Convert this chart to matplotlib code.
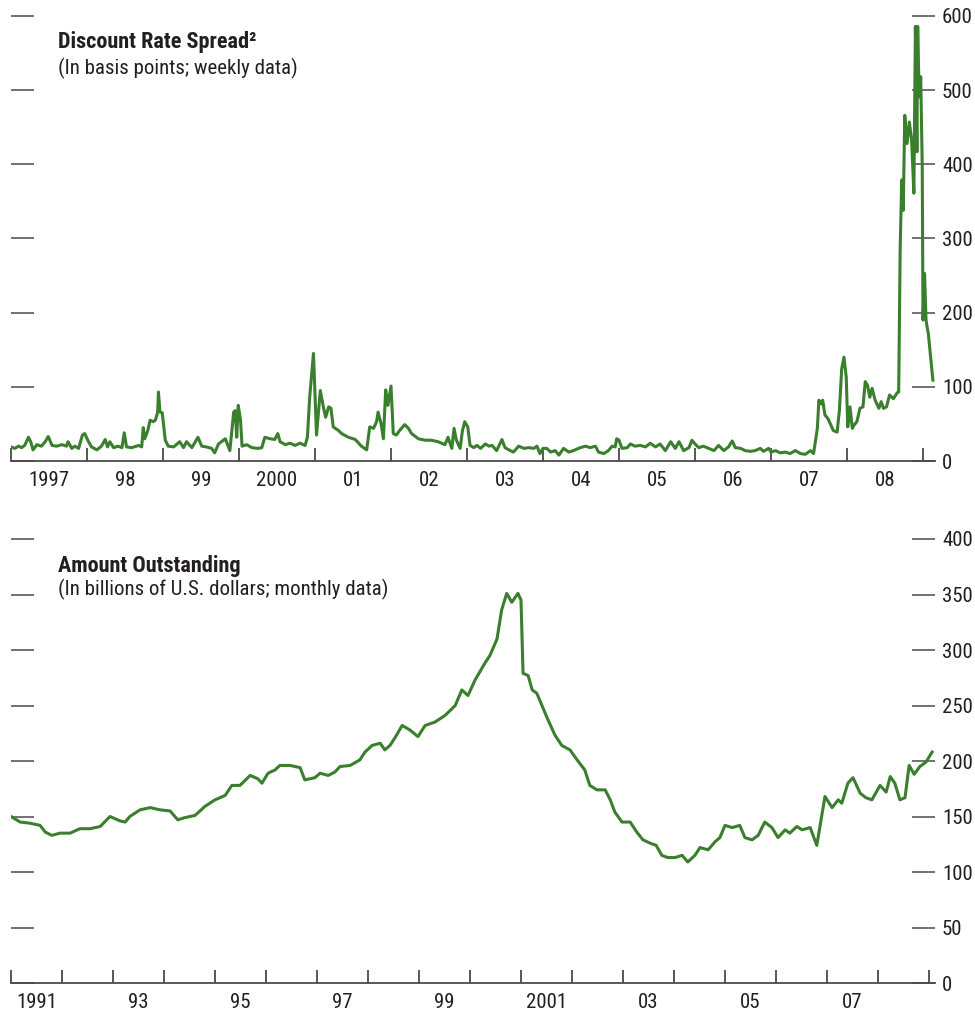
import os
import numpy as np
import matplotlib
matplotlib.use('Agg')
import matplotlib.pyplot as plt
from matplotlib import font_manager as fm
from matplotlib.ticker import FixedLocator, NullFormatter, FixedFormatter


# pick a narrow sans face that has real regular and bold files
def has_bold(name):
    ws = set()
    for f in fm.fontManager.ttflist:
        if f.name != name or '[' in os.path.basename(f.fname) or f.style != 'normal':
            continue
        ws.add(f.weight if isinstance(f.weight, int) else {'normal': 400, 'bold': 700}.get(f.weight, 0))
    return 400 in ws and 700 in ws


family, stretch = 'DejaVu Sans', 'condensed'
for cand in ['Liberation Sans Narrow', 'Roboto Condensed', 'PT Sans Narrow', 'Arimo Narrow',
             'Fira Sans Condensed', 'IBM Plex Sans Condensed', 'Barlow Semi Condensed']:
    if has_bold(cand):
        family, stretch = cand, 'normal'
        break
fs = 15 if family != 'DejaVu Sans' else 13
fs_title = fs + 1
plt.rcParams['font.family'] = [family, 'DejaVu Sans']
plt.rcParams['font.stretch'] = stretch

# Discount rate spread (basis points, weekly data) - decimal year, value
spread_year = [
    1997.00, 1997.05, 1997.10, 1997.14, 1997.18, 1997.23, 1997.26, 1997.29, 1997.34, 1997.40,
    1997.45, 1997.49, 1997.54, 1997.60, 1997.67, 1997.73, 1997.75, 1997.80, 1997.84, 1997.89,
    1997.94, 1997.97, 1998.02, 1998.06, 1998.13, 1998.19, 1998.24, 1998.27, 1998.30, 1998.35,
    1998.41, 1998.46, 1998.49, 1998.52, 1998.59, 1998.68, 1998.72, 1998.74, 1998.76, 1998.80,
    1998.83, 1998.87, 1998.90, 1998.93, 1998.94, 1998.96, 1998.99, 1999.03, 1999.07, 1999.14,
    1999.22, 1999.27, 1999.31, 1999.38, 1999.46, 1999.51, 1999.57, 1999.64, 1999.68, 1999.73,
    1999.82, 1999.88, 1999.93, 1999.95, 1999.97, 1999.99, 2000.02, 2000.04, 2000.10, 2000.17,
    2000.25, 2000.30, 2000.34, 2000.41, 2000.47, 2000.51, 2000.54, 2000.61, 2000.67, 2000.74,
    2000.80, 2000.87, 2000.90, 2000.93, 2000.98, 2001.02, 2001.07, 2001.11, 2001.14, 2001.18,
    2001.21, 2001.24, 2001.31, 2001.35, 2001.44, 2001.53, 2001.61, 2001.68, 2001.72, 2001.77,
    2001.81, 2001.83, 2001.87, 2001.90, 2001.93, 2001.96, 2002.00, 2002.03, 2002.07, 2002.12,
    2002.18, 2002.23, 2002.27, 2002.36, 2002.45, 2002.53, 2002.62, 2002.71, 2002.75, 2002.80,
    2002.83, 2002.86, 2002.91, 2002.94, 2002.97, 2003.01, 2003.04, 2003.09, 2003.13, 2003.18,
    2003.24, 2003.29, 2003.33, 2003.39, 2003.46, 2003.50, 2003.57, 2003.61, 2003.68, 2003.75,
    2003.81, 2003.88, 2003.92, 2003.96, 2004.00, 2004.05, 2004.10, 2004.16, 2004.21, 2004.27,
    2004.34, 2004.40, 2004.49, 2004.56, 2004.62, 2004.69, 2004.73, 2004.80, 2004.86, 2004.91,
    2004.95, 2004.97, 2005.00, 2005.04, 2005.11, 2005.15, 2005.21, 2005.28, 2005.35, 2005.41,
    2005.48, 2005.54, 2005.61, 2005.68, 2005.74, 2005.79, 2005.85, 2005.92, 2005.96, 2006.00,
    2006.05, 2006.11, 2006.18, 2006.25, 2006.31, 2006.38, 2006.44, 2006.49, 2006.53, 2006.60,
    2006.66, 2006.73, 2006.79, 2006.86, 2006.90, 2006.97, 2007.00, 2007.06, 2007.12, 2007.19,
    2007.25, 2007.32, 2007.39, 2007.45, 2007.52, 2007.56, 2007.61, 2007.63, 2007.66, 2007.68,
    2007.71, 2007.75, 2007.78, 2007.82, 2007.87, 2007.90, 2007.93, 2007.96, 2007.99, 2008.01,
    2008.04, 2008.07, 2008.09, 2008.13, 2008.17, 2008.21, 2008.24, 2008.27, 2008.30, 2008.33,
    2008.37, 2008.42, 2008.45, 2008.48, 2008.52, 2008.56, 2008.61, 2008.66, 2008.68, 2008.70,
    2008.72, 2008.74, 2008.76, 2008.79, 2008.82, 2008.85, 2008.88, 2008.90, 2008.92, 2008.93,
    2008.95, 2008.97, 2008.99, 2009.00, 2009.02, 2009.04, 2009.06, 2009.07, 2009.13,
]
spread_bp = [
    19, 17, 20, 18, 21, 32, 26, 15, 22, 20,
    26, 33, 21, 20, 22, 20, 26, 17, 20, 17,
    35, 37, 26, 19, 15, 20, 29, 19, 26, 18,
    20, 18, 38, 19, 18, 21, 19, 45, 30, 41,
    55, 53, 55, 66, 93, 66, 65, 28, 20, 19,
    26, 18, 26, 18, 32, 20, 19, 17, 11, 23,
    30, 14, 66, 68, 32, 75, 55, 20, 22, 18,
    17, 18, 32, 30, 29, 37, 26, 22, 24, 21,
    24, 21, 32, 86, 145, 35, 95, 73, 59, 73,
    71, 46, 41, 37, 32, 29, 20, 15, 46, 44,
    53, 66, 50, 30, 96, 75, 101, 37, 35, 42,
    49, 44, 37, 30, 28, 28, 26, 22, 32, 17,
    44, 28, 17, 41, 53, 46, 21, 18, 21, 17,
    23, 20, 21, 14, 29, 18, 14, 12, 20, 17,
    18, 17, 20, 10, 17, 17, 12, 14, 8, 17,
    12, 14, 18, 20, 18, 20, 12, 10, 14, 20,
    19, 30, 28, 17, 18, 23, 20, 21, 19, 24,
    19, 23, 14, 26, 17, 26, 14, 18, 28, 23,
    18, 20, 17, 14, 21, 14, 19, 27, 18, 17,
    14, 13, 14, 17, 13, 17, 12, 14, 11, 12,
    10, 14, 10, 9, 14, 10, 44, 82, 77, 82,
    62, 57, 50, 41, 39, 68, 124, 140, 113, 46,
    73, 44, 48, 53, 71, 73, 107, 102, 86, 98,
    82, 71, 80, 71, 73, 89, 84, 92, 93, 289,
    379, 338, 466, 428, 457, 433, 361, 586, 417, 586,
    491, 518, 397, 190, 253, 190, 177, 172, 109,
]

# Amount outstanding (billions of U.S. dollars, monthly data)
amount_year = [
    1991.00, 1991.18, 1991.37, 1991.57, 1991.67, 1991.80, 1991.96, 1992.16, 1992.35, 1992.55,
    1992.75, 1992.94, 1993.14, 1993.24, 1993.33, 1993.53, 1993.73, 1993.92, 1994.12, 1994.27,
    1994.41, 1994.61, 1994.80, 1995.00, 1995.20, 1995.33, 1995.49, 1995.69, 1995.84, 1995.92,
    1996.04, 1996.18, 1996.27, 1996.47, 1996.67, 1996.76, 1996.96, 1997.06, 1997.22, 1997.35,
    1997.45, 1997.65, 1997.84, 1997.94, 1998.08, 1998.24, 1998.33, 1998.43, 1998.53, 1998.67,
    1998.82, 1998.98, 1999.12, 1999.31, 1999.51, 1999.71, 1999.84, 1999.96, 2000.10, 2000.29,
    2000.39, 2000.53, 2000.62, 2000.72, 2000.82, 2000.94, 2001.00, 2001.04, 2001.14, 2001.22,
    2001.31, 2001.41, 2001.53, 2001.67, 2001.80, 2001.96, 2002.10, 2002.25, 2002.35, 2002.49,
    2002.65, 2002.75, 2002.84, 2002.98, 2003.14, 2003.27, 2003.39, 2003.53, 2003.65, 2003.76,
    2003.88, 2004.02, 2004.16, 2004.27, 2004.41, 2004.51, 2004.67, 2004.80, 2004.90, 2005.00,
    2005.14, 2005.29, 2005.39, 2005.53, 2005.65, 2005.78, 2005.92, 2006.04, 2006.18, 2006.27,
    2006.41, 2006.51, 2006.67, 2006.80, 2006.96, 2007.10, 2007.22, 2007.29, 2007.41, 2007.51,
    2007.65, 2007.76, 2007.88, 2008.04, 2008.16, 2008.24, 2008.33, 2008.43, 2008.53, 2008.61,
    2008.71, 2008.82, 2008.94, 2009.06,
]
amount_bn = [
    150, 145, 144, 142, 136, 133, 135, 135, 139, 139,
    141, 150, 146, 145, 150, 156, 158, 156, 155, 147,
    149, 151, 159, 165, 169, 178, 178, 187, 184, 180,
    189, 192, 196, 196, 194, 183, 185, 189, 187, 190,
    195, 196, 201, 208, 214, 216, 210, 214, 221, 232,
    228, 222, 232, 235, 241, 250, 264, 259, 273, 288,
    295, 310, 336, 351, 343, 351, 345, 279, 277, 264,
    261, 250, 237, 223, 214, 210, 201, 192, 178, 174,
    174, 165, 154, 145, 145, 136, 129, 126, 124, 115,
    113, 113, 115, 109, 115, 122, 120, 127, 131, 142,
    140, 142, 131, 129, 133, 145, 140, 131, 138, 135,
    141, 138, 140, 124, 168, 158, 165, 162, 180, 185,
    171, 167, 165, 178, 172, 186, 180, 165, 167, 196,
    188, 195, 199, 208,
]

spread_labels = ['1997', '98', '99', '2000', '01', '02', '03', '04', '05', '06', '07', '08']
amount_labels = ['1991', '93', '95', '97', '99', '2001', '03', '05', '07']

green = '#3a7f2d'
txt = '#231f20'
tick_c = '#4a4a4a'
W, H = 975, 1013

fig = plt.figure(figsize=(W / 100, H / 100), dpi=100)


def setup(ax, y1, ystep, first_year, last_year, xmax, labels, label_years):
    ax.set_xlim(first_year, xmax)
    ax.set_ylim(0, y1)
    for s in ['top', 'left', 'right']:
        ax.spines[s].set_visible(False)
    ax.spines['bottom'].set_color(tick_c)
    ax.spines['bottom'].set_linewidth(1.3)
    # year boundaries as major ticks, labels at mid-year (minor)
    ax.xaxis.set_major_locator(FixedLocator(np.arange(first_year, last_year + 1)))
    ax.xaxis.set_major_formatter(NullFormatter())
    ax.xaxis.set_minor_locator(FixedLocator(label_years))
    ax.xaxis.set_minor_formatter(FixedFormatter(labels))
    ax.tick_params(axis='x', which='major', direction='in', length=9.5, width=1.3, color=tick_c)
    ax.tick_params(axis='x', which='minor', length=0, pad=7, labelsize=fs, labelcolor=txt)
    ax.set_yticks(np.arange(0, y1 + 1, ystep))
    ax.tick_params(axis='y', which='major', direction='in', length=16.5, width=1.1, color=tick_c,
                   left=True, right=True, labelleft=False, labelright=True,
                   pad=5, labelsize=fs, labelcolor=txt)


left = 11 / W
width = 924 / W

ax1 = fig.add_axes([left, 1 - 461 / H, width, 445 / H])
ax1.plot(spread_year, spread_bp, color=green, lw=2.2, solid_joinstyle='round')
setup(ax1, 600, 100, 1997, 2009, 1997 + 924 / 76, spread_labels,
      [1997.5 + i for i in range(len(spread_labels))])

ax2 = fig.add_axes([left, 1 - 983 / H, width, 444 / H])
ax2.plot(amount_year, amount_bn, color=green, lw=2.2, solid_joinstyle='round')
setup(ax2, 400, 50, 1991, 2009, 1991 + 924 / 51, amount_labels,
      [1991.5 + 2 * i for i in range(len(amount_labels))])

fig.text(58 / W, 1 - 48 / H, 'Discount Rate Spread\u00b2', fontsize=fs_title, fontweight='bold',
         color=txt, va='baseline')
fig.text(58 / W, 1 - 74 / H, '(In basis points; weekly data)', fontsize=fs,
         color=txt, va='baseline')
fig.text(58 / W, 1 - 572 / H, 'Amount Outstanding', fontsize=fs_title, fontweight='bold',
         color=txt, va='baseline')
fig.text(58 / W, 1 - 595 / H, '(In billions of U.S. dollars; monthly data)', fontsize=fs,
         color=txt, va='baseline')

fig.savefig('out.png', dpi=100)
